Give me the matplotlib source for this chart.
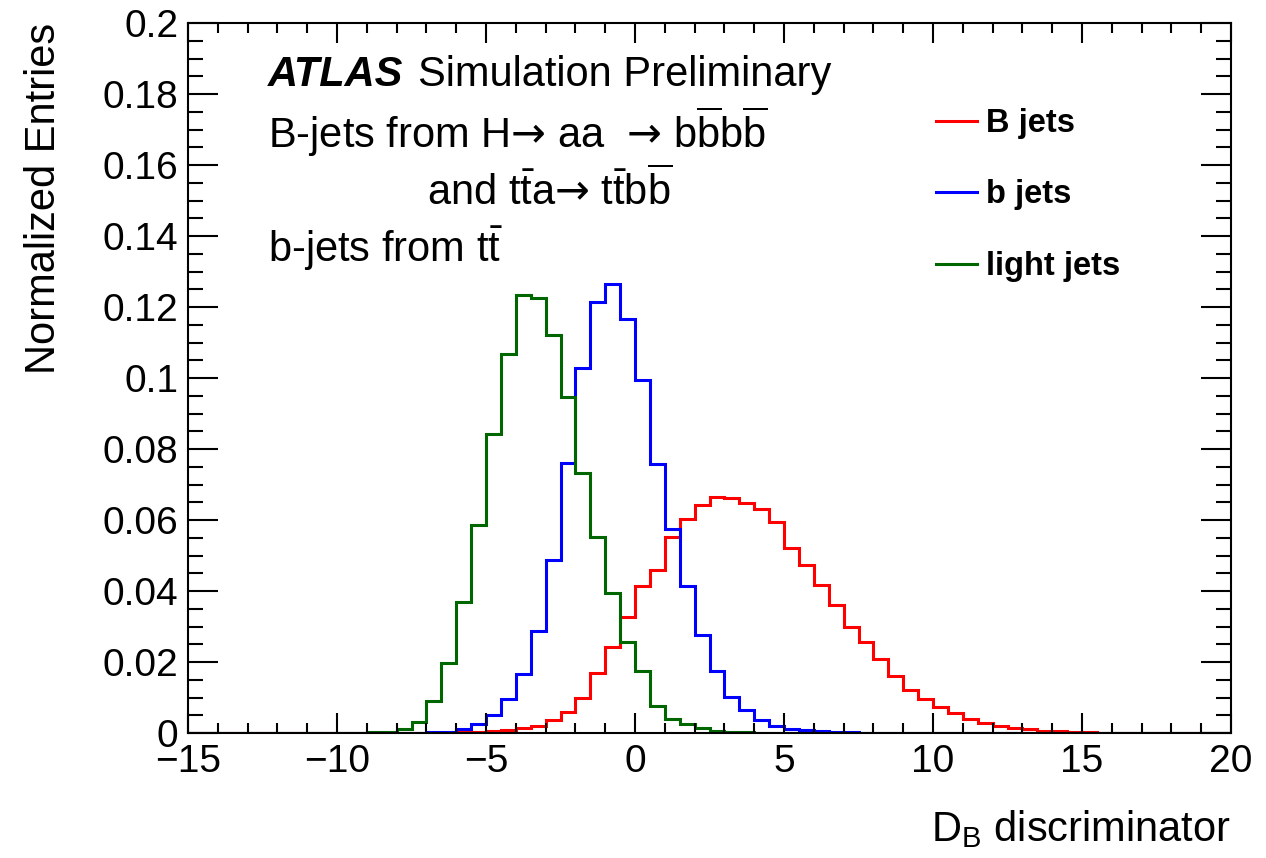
import matplotlib
matplotlib.use("Agg")
import matplotlib.pyplot as plt
import numpy as np
from matplotlib.ticker import MultipleLocator, FuncFormatter

# D_B discriminator histograms, 70 bins of width 0.5 from -15 to 20
bin_edges = np.linspace(-15, 20, 71)

b_big_jets = [
    0, 0, 0, 0, 0, 0, 0, 0, 0, 0,
    0, 0, 0, 0, 0, 0, 0, 0.0001, 0.0002, 0.0004,
    0.0006, 0.0009, 0.0013, 0.0021, 0.0037, 0.0059, 0.0100, 0.0170, 0.0243, 0.0326,
    0.0414, 0.0460, 0.0552, 0.0603, 0.0643, 0.0666, 0.0663, 0.0649, 0.0630, 0.0593,
    0.0522, 0.0474, 0.0417, 0.0361, 0.0300, 0.0256, 0.0209, 0.0161, 0.0121, 0.0095,
    0.0074, 0.0055, 0.0039, 0.0027, 0.0019, 0.0013, 0.0010, 0.0007, 0.0005, 0.0003,
    0.0002, 0.0001, 0, 0, 0, 0, 0, 0, 0, 0,
]
b_jets = [
    0, 0, 0, 0, 0, 0, 0, 0, 0, 0,
    0, 0, 0, 0, 0, 0.0001, 0.0002, 0.0004, 0.0010, 0.0024,
    0.0051, 0.0096, 0.0166, 0.0288, 0.0488, 0.0760, 0.1027, 0.1214, 0.1265, 0.1166,
    0.0995, 0.0758, 0.0575, 0.0413, 0.0275, 0.0176, 0.0101, 0.0065, 0.0037, 0.0021,
    0.0012, 0.0008, 0.0005, 0.0003, 0.0002, 0.0001, 0, 0, 0, 0,
    0, 0, 0, 0, 0, 0, 0, 0, 0, 0,
    0, 0, 0, 0, 0, 0, 0, 0, 0, 0,
]
light_jets = [
    0, 0, 0, 0, 0, 0, 0, 0, 0, 0,
    0.0001, 0.0001, 0.0002, 0.0004, 0.0012, 0.0032, 0.0091, 0.0196, 0.0370, 0.0586,
    0.0843, 0.1068, 0.1234, 0.1225, 0.1122, 0.0946, 0.0732, 0.0551, 0.0395, 0.0256,
    0.0176, 0.0075, 0.0040, 0.0024, 0.0013, 0.0007, 0.0004, 0.0002, 0.0001, 0,
    0, 0, 0, 0, 0, 0, 0, 0, 0, 0,
    0, 0, 0, 0, 0, 0, 0, 0, 0, 0,
    0, 0, 0, 0, 0, 0, 0, 0, 0, 0,
]
labels = ["B jets", "b jets", "light jets"]
colors = ["#ff0000", "#0000ff", "#006600"]

plt.rcParams["font.family"] = ["Liberation Sans", "DejaVu Sans"]
plt.rcParams["mathtext.fontset"] = "custom"
plt.rcParams["mathtext.rm"] = "Liberation Sans"
plt.rcParams["mathtext.it"] = "Liberation Sans:italic"
plt.rcParams["mathtext.bf"] = "Liberation Sans:bold"
plt.rcParams["mathtext.sf"] = "DejaVu Sans"

W, H = 1266, 858


def fx(px):
    return px / W


def fy(py):
    return 1 - py / H


fig = plt.figure(figsize=(W / 100, H / 100), dpi=100)
ax = fig.add_axes([fx(188), fy(733), (1231 - 188) / W, (733 - 23) / H])

for vals, lab, col in zip([b_big_jets, b_jets, light_jets], labels, colors):
    ax.stairs(vals, bin_edges, color=col, linewidth=2.2, label=lab)

ax.set_xlim(-15, 20)
ax.set_ylim(0, 0.2)
ax.xaxis.set_major_locator(MultipleLocator(5))
ax.xaxis.set_minor_locator(MultipleLocator(1))
ax.yaxis.set_major_locator(MultipleLocator(0.02))
ax.yaxis.set_minor_locator(MultipleLocator(0.005))
ax.yaxis.set_major_formatter(FuncFormatter(lambda v, p: "%g" % round(v, 3)))

ax.tick_params(which="both", direction="in", top=True, right=True,
               width=1.5, labelsize=28)
ax.tick_params(axis="x", which="major", length=14.5, pad=8)
ax.tick_params(axis="x", which="minor", length=7.2)
ax.tick_params(axis="y", which="major", length=21.5, pad=7)
ax.tick_params(axis="y", which="minor", length=10.8)
for sp in ax.spines.values():
    sp.set_linewidth(1.5)

ax.set_xlabel(r"D$_{\mathrm{B}}$ discriminator", fontsize=30, loc="right",
              labelpad=20)
ax.set_ylabel("Normalized Entries", fontsize=30, loc="top", labelpad=28)

leg = ax.legend(loc="center left", bbox_to_anchor=(fx(936), fy(195)),
                bbox_transform=fig.transFigure, frameon=False,
                prop={"weight": "bold", "size": 23.5}, handlelength=1.26,
                handletextpad=0.28, labelspacing=1.24, borderpad=0,
                borderaxespad=0)

# ATLAS label block
arrow = r"$\mathsf{→}$"
atl = fig.text(fx(268), fy(86), "ATLAS", fontsize=30, fontweight="bold",
               fontstyle="italic", va="baseline")
fig.canvas.draw()
bb = atl.get_window_extent()
fig.text((bb.x1 + 15) / W, fy(86), "Simulation Preliminary", fontsize=30,
         va="baseline")
fig.text(fx(268), fy(148),
         "B-jets from H" + arrow + " aa  " + arrow + " "
         r"b$\overline{\mathrm{b}}$b$\overline{\mathrm{b}}$",
         fontsize=30, va="baseline")
fig.text(fx(427), fy(205),
         r"and t$\bar{\mathrm{t}}$a" + arrow + " "
         r"t$\bar{\mathrm{t}}$b$\overline{\mathrm{b}}$",
         fontsize=30, va="baseline")
fig.text(fx(268), fy(262), r"b-jets from t$\bar{\mathrm{t}}$",
         fontsize=30, va="baseline")

fig.savefig("out.png", dpi=100)
